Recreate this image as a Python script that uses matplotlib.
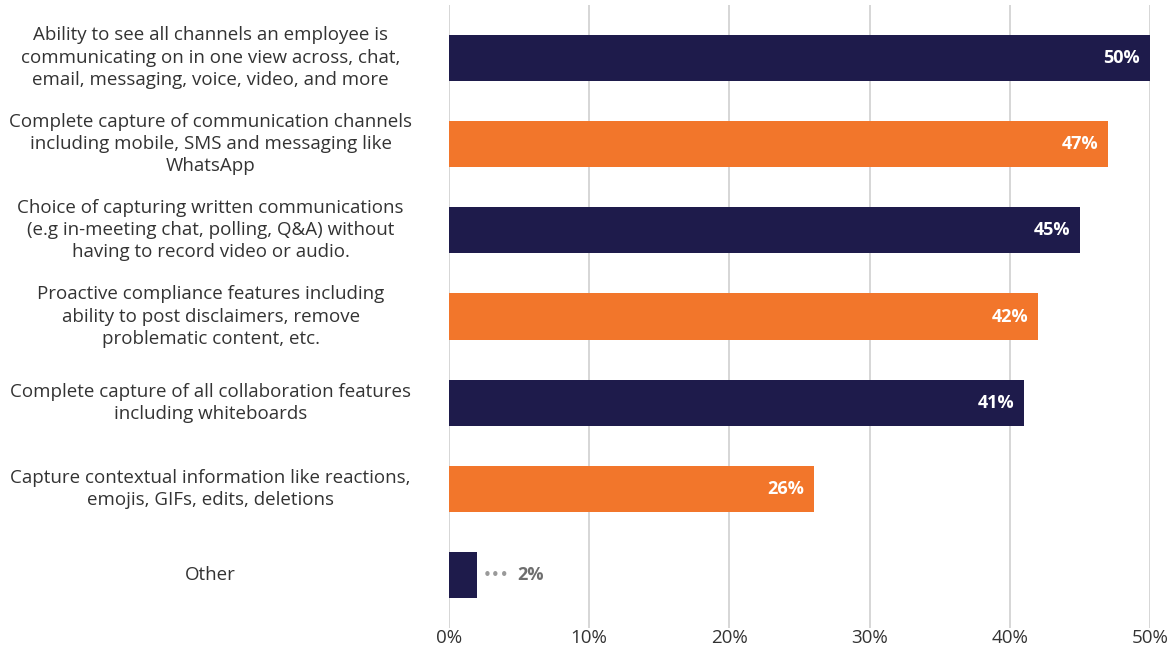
import matplotlib.pyplot as plt
import matplotlib.transforms as mtransforms

plt.rcParams['font.family'] = ['Open Sans', 'DejaVu Sans']

categories = [
    "Ability to see all channels an employee is\ncommunicating on in one view across, chat,\nemail, messaging, voice, video, and more",
    "Complete capture of communication channels\nincluding mobile, SMS and messaging like\nWhatsApp",
    "Choice of capturing written communications\n(e.g in-meeting chat, polling, Q&A) without\nhaving to record video or audio.",
    "Proactive compliance features including\nability to post disclaimers, remove\nproblematic content, etc.",
    "Complete capture of all collaboration features\nincluding whiteboards",
    "Capture contextual information like reactions,\nemojis, GIFs, edits, deletions",
    "Other",
]
values = [50, 47, 45, 42, 41, 26, 2]

navy = '#1e1b4b'
orange = '#f2762b'
colors = [navy, orange, navy, orange, navy, orange, navy]

fig = plt.figure(figsize=(11.72, 6.51), dpi=100)
ax = fig.add_axes([449 / 1172, 23 / 651, 701 / 1172, 623 / 651])

y = list(range(len(values)))
ax.barh(y, values, height=0.535, color=colors, zorder=3)

ax.set_xlim(0, 50)
ax.set_ylim(6.61, -0.61)
ax.set_xticks(range(0, 51, 10))
ax.set_xticklabels([f'{v}%' for v in range(0, 51, 10)], fontsize=13.5, color='#333333')
ax.set_yticks([])
ax.tick_params(axis='x', length=0, pad=1)
ax.grid(axis='x', color='#d0d0d0', linewidth=1.2, zorder=0)
for s in ax.spines.values():
    s.set_visible(False)

# category labels, centred in the left margin
trans = mtransforms.blended_transform_factory(ax.transAxes, ax.transData)
for yi, label in zip(y, categories):
    ax.text(-0.34, yi, label, transform=trans, ha='center', va='center',
            fontsize=13.5, color='#333333', linespacing=1.3)

# value labels
for yi, v in zip(y, values):
    if v >= 10:
        ax.text(v - 0.7, yi, f'{v}%', ha='right', va='center', fontsize=13,
                fontweight='bold', fontstretch='normal', color='white', zorder=4)
    else:
        ax.text(v + 0.4, yi, '•••', ha='left', va='center', fontsize=11,
                family='DejaVu Sans', color='#9a9a9a', zorder=4)
        ax.text(v + 2.9, yi, f'{v}%', ha='left', va='center', fontsize=13,
                fontweight='bold', fontstretch='normal', color='#6e6e6e', zorder=4)

fig.savefig('out.png', dpi=100)
